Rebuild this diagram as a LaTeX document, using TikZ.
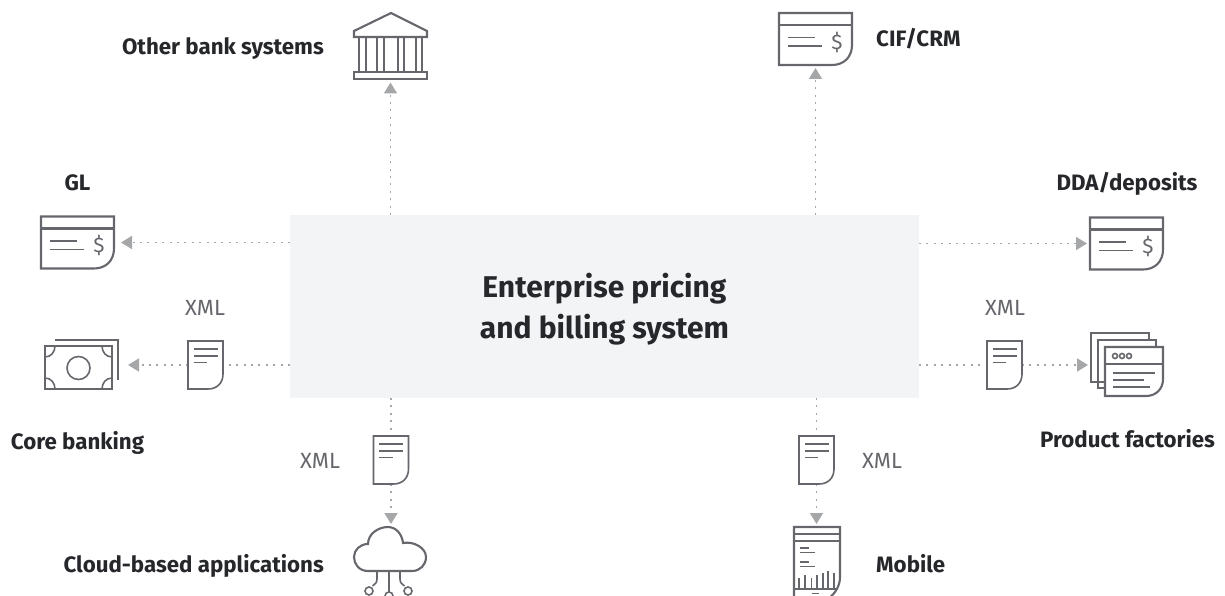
\documentclass[tikz,border=0pt]{standalone}
\usepackage{fontspec}
\setmainfont{Fira Sans}
\usepackage{xcolor}
\usetikzlibrary{arrows.meta}
\definecolor{iconcol}{HTML}{66676C}
\definecolor{linkcol}{HTML}{A6A7A9}
\definecolor{boxcol}{HTML}{F3F4F6}
\definecolor{textcol}{HTML}{26272B}
\tikzset{
  iconline/.style={draw=iconcol, line width=2.1pt},
  thinline/.style={draw=iconcol, line width=1.6pt},
  iconbox/.style={inner sep=0pt, outer sep=0pt},
  link/.style={draw=linkcol, line width=1.7pt, dash pattern=on 2pt off 5.4pt},
  linkto/.style={link, -{Triangle[length=11pt,width=13pt,fill=linkcol,color=linkcol]}, shorten >=3pt},
  tag/.style={font=\fontsize{22.3}{26}\selectfont\bfseries, text=textcol, inner sep=0pt},
  xmltag/.style={font=\fontsize{22}{26}\fontseries{l}\selectfont, text=iconcol, inner sep=0pt, anchor=base},
  pics/cardicon/.style={code={
    \draw[iconline] (0,0) -- (73,0) -- (73,32) .. controls (73,44) and (65,52) .. (53,52) -- (0,52) -- cycle;
    \draw[iconline] (0,12) -- (73,12);
    \draw[thinline] (9,24.5) -- (36,24.5);
    \draw[thinline] (9,33) -- (43,33);
    \node[iconbox, text=iconcol, font=\fontsize{21}{24}\selectfont] (-sign) at (58,29) {\$};
  }},
  pics/docicon/.style={code={
    \draw[thinline] (0,0) -- (35,0) -- (35,33) .. controls (35,42) and (29,48) .. (20,48) -- (0,48) -- cycle;
    \draw[thinline] (5.5,8) -- (29.5,8);
    \draw[thinline] (5.5,15) -- (29.5,15);
    \draw[thinline] (5.5,21.5) -- (19,21.5);
  }}
}
\begin{document}
\begin{tikzpicture}[x=1pt, y=-1pt]
\clip (0,0) rectangle (1225,596);
\node[fill=boxcol, iconbox, minimum width=629pt, minimum height=183pt] (main) at (604.5,306.5) {};
\node[iconbox, align=center, text=textcol, font=\fontsize{30}{41}\selectfont\bfseries] (mainTag) at ([yshift=-3pt]main.center) {Enterprise pricing\\and billing system};

% icon places
\node[iconbox, minimum width=73pt, minimum height=67pt] (bank) at (390.5,46) {};
\node[iconbox, minimum width=73pt, minimum height=52pt] (cif) at (815.5,39) {};
\node[iconbox, minimum width=73pt, minimum height=52pt] (gl) at (77.5,242.5) {};
\node[iconbox, minimum width=73pt, minimum height=52pt] (dda) at (1126.5,243.5) {};
\node[iconbox, minimum width=73pt, minimum height=49pt] (core) at (81.5,364.5) {};
\node[iconbox, minimum width=72pt, minimum height=63pt] (factory) at (1127,364.5) {};
\node[iconbox, minimum width=72pt, minimum height=44pt] (cloud) at (390,549) {};
\node[iconbox, minimum width=46pt, minimum height=69pt] (mobile) at (817,561.5) {};
\node[iconbox, minimum width=35pt, minimum height=48pt] (docCore) at (205.5,365) {};
\node[iconbox, minimum width=35pt, minimum height=48pt] (docFactory) at (1004.5,365) {};
\node[iconbox, minimum width=35pt, minimum height=48pt] (docCloud) at (391,460) {};
\node[iconbox, minimum width=35pt, minimum height=48pt] (docMobile) at (816.5,460) {};

% connectors
\draw[linkto] (main.north -| bank) -- (bank.south);
\draw[linkto] (main.north -| cif) -- (cif.south);
\draw[linkto, shorten >=7pt] (main.west |- gl) -- (gl.east);
\draw[linkto] (main.east |- dda) -- (dda.west);
\draw[link] (main.west |- docCore) -- (docCore.east);
\draw[linkto, shorten >=10pt] (docCore.west) -- (core.east |- docCore);
\draw[link] (main.east |- docFactory) -- (docFactory.west);
\draw[linkto] (docFactory.east) -- (factory.west |- docFactory);
\draw[link] (main.south -| docCloud) -- (docCloud.north);
\draw[linkto] (docCloud.south) -- (cloud.north -| docCloud);
\draw[link] (main.south -| docMobile) -- (docMobile.north);
\draw[linkto] (docMobile.south) -- (mobile.north -| docMobile);

% bank
\begin{scope}[shift={(354,13)}]
\draw[iconline, line join=miter] (0,18) -- (37,0) -- (73,18) -- (73,24) -- (0,24) -- cycle;
\foreach \colx in {5,12,23,30,44,50,62,68}
  \draw[iconline] (\colx,24) -- (\colx,59);
\draw[iconline] (0,59) rectangle (73,66);
\end{scope}

\pic (cifCard) at (779,13) {cardicon};
\pic (glCard) at (41,216.5) {cardicon};
\pic (ddaCard) at (1090,217.5) {cardicon};
\pic (docA) at (188,341) {docicon};
\pic (docB) at (987,341) {docicon};
\pic (docC) at (373.5,436) {docicon};
\pic (docD) at (799,436) {docicon};

% money
\begin{scope}[shift={(45,346)}]
\draw[iconline] (0,0) rectangle (67,43);
\draw[iconline] (10,-6) -- (73,-6) -- (73,34);
\draw[thinline] (22+11.5,22) circle (11.5);
\draw[thinline] (0,11) .. controls (6,11) and (10,6) .. (10,0);
\draw[thinline] (67,11) .. controls (61,11) and (57,6) .. (57,0);
\draw[thinline] (0,32) .. controls (6,32) and (10,37) .. (10,43);
\draw[thinline] (67,32) .. controls (61,32) and (57,37) .. (57,43);
\end{scope}

% windows
\begin{scope}[shift={(1091,333)}]
\draw[iconline] (14,49) -- (0,49) -- (0,0) -- (58,0) -- (58,7);
\draw[iconline] (14,55) -- (7,55) -- (7,7) -- (65,7) -- (65,14);
\draw[iconline] (14,14) -- (72,14) -- (72,46) .. controls (72,56) and (65,63) .. (55,63) -- (14,63) -- cycle;
\draw[iconline] (14,31) -- (72,31);
\foreach \dotx in {24,31,38}
  \draw[thinline] (\dotx,23) circle (2.5);
\draw[thinline] (22,40) -- (64,40);
\draw[thinline] (22,47) -- (53,47);
\draw[thinline] (22,54) -- (59,54);
\end{scope}

% cloud
\begin{scope}[shift={(354,527)}]
\draw[iconline] (14,44) .. controls (5,44) and (0,37) .. (0,30) .. controls (0,23) and (6,17) .. (14,17) .. controls (14,7) and (24,0) .. (34,0) .. controls (42,0) and (48,7) .. (49,16) .. controls (60,14) and (72,21) .. (72,30) .. controls (72,38) and (66,44) .. (58,44) -- cycle;
\draw[thinline] (23,44) -- (23,52) .. controls (23,56) and (21,57) .. (18.5,59);
\draw[thinline] (35,44) -- (35,65);
\draw[thinline] (46,44) -- (46,52) .. controls (46,56) and (48,57) .. (50.5,59);
\draw[thinline] (15,64) circle (4);
\draw[thinline] (35,69) circle (4);
\draw[thinline] (54,64) circle (4);
\end{scope}

% mobile
\begin{scope}[shift={(794,527)}]
\draw[iconline] (0,75) -- (0,0) -- (46,0) -- (46,50) .. controls (46,58) and (42,66) .. (34,72);
\draw[iconline] (0,7) -- (46,7);
\draw[iconline] (0,14) -- (46,14);
\draw[thinline] (6,21) -- (15,21);
\draw[thinline] (6,25.5) -- (21,25.5);
\draw[thinline] (6,35) -- (15,35);
\draw[thinline] (6,39.5) -- (21,39.5);
\foreach \barx/\bartop in {5/51,11/48,17.5/51,23/48,29/46,34/44,40/46}
  \draw[thinline] (\barx,\bartop) -- (\barx,62);
\draw[thinline] (0,62) -- (42,62);
\draw[thinline] (18,66.5) -- (25,66.5);
\end{scope}

% labels
\node[tag, anchor=base east] (bankTag) at (324,55) {Other bank systems};
\node[tag, anchor=base west] (cifTag) at (876,47) {CIF/CRM};
\node[tag, anchor=base] (glTag) at (77.5,190) {GL};
\node[tag, anchor=base] (ddaTag) at (1127,190) {DDA/deposits};
\node[tag, anchor=base] (coreTag) at (77.5,449) {Core banking};
\node[tag, anchor=base] (factoryTag) at (1127.5,447) {Product factories};
\node[tag, anchor=base east] (cloudTag) at (324,572) {Cloud-based applications};
\node[tag, anchor=base west] (mobileTag) at (876,572) {Mobile};
\node[xmltag] (xmlCore) at (205,315) {XML};
\node[xmltag] (xmlFactory) at (1005,315) {XML};
\node[xmltag] (xmlCloud) at (320,468) {XML};
\node[xmltag] (xmlMobile) at (882,468) {XML};
\end{tikzpicture}
\end{document}
